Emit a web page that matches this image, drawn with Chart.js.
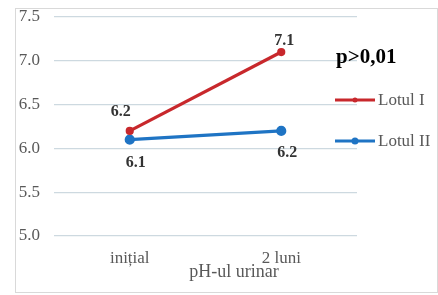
<!DOCTYPE html>
<html><head><meta charset="utf-8">
<script src="https://cdn.jsdelivr.net/npm/chart.js@4.4.1/dist/chart.umd.min.js"></script>
<style>
html,body{margin:0;padding:0;background:#fff;}
#wrap{position:relative;width:438px;height:295px;}
#frame{position:absolute;left:15px;top:8px;width:421px;height:283px;border:1px solid #d9d9d9;}
canvas{position:absolute;left:0;top:0;}
</style></head>
<body>
<div id="wrap"><div id="frame"></div><canvas id="c" width="438" height="295"></canvas></div>
<script>
const categories = ["inițial", "2 luni"];
const lotulI = [6.2, 7.1];
const lotulII = [6.1, 6.2];
const seriesNames = ["Lotul I", "Lotul II"];
const yTicks = [5.0, 5.5, 6.0, 6.5, 7.0, 7.5];
const axisTitle = "pH-ul urinar";
const pText = "p>0,01";

const RED = '#c8282c', BLUE = '#1f74c4';
const serif = '"Liberation Serif","DejaVu Serif",serif';

const labelOffsets = [[[-9,-19],[3,-11]], [[6,23],[6,22]]];

const extras = {
  id: 'extras',
  afterDatasetsDraw(chart) {
    const ctx = chart.ctx;
    ctx.save();
    ctx.font = 'bold 16px ' + serif;
    ctx.fillStyle = '#333';
    ctx.textAlign = 'center';
    ctx.textBaseline = 'middle';
    chart.data.datasets.forEach((ds, di) => {
      const meta = chart.getDatasetMeta(di);
      meta.data.forEach((pt, i) => {
        const o = labelOffsets[di][i];
        ctx.fillText(ds.data[i].toFixed(1), pt.x + o[0], pt.y + o[1]);
      });
    });
    ctx.font = 'bold 21px ' + serif;
    ctx.fillStyle = '#000';
    ctx.textAlign = 'left';
    ctx.textBaseline = 'alphabetic';
    ctx.fillText(pText, 336, 63);
    const ly = [100, 141];
    chart.data.datasets.forEach((ds, di) => {
      ctx.strokeStyle = ds.borderColor;
      ctx.lineWidth = 3;
      ctx.beginPath(); ctx.moveTo(335, ly[di]); ctx.lineTo(375, ly[di]); ctx.stroke();
      ctx.fillStyle = ds.borderColor;
      ctx.beginPath(); ctx.arc(355, ly[di], di === 0 ? 2.5 : 3.5, 0, Math.PI*2); ctx.fill();
      ctx.fillStyle = '#595959';
      ctx.font = '17px ' + serif;
      ctx.textBaseline = 'middle';
      ctx.fillText(ds.label, 378, ly[di] + 1);
    });
    ctx.font = '18px ' + serif;
    ctx.fillStyle = '#595959';
    ctx.textAlign = 'center';
    ctx.textBaseline = 'middle';
    ctx.fillText(axisTitle, 234, 272);
    ctx.restore();
  }
};

new Chart(document.getElementById('c'), {
  type: 'line',
  data: {
    labels: categories,
    datasets: [
      { label: seriesNames[0], data: lotulI, borderColor: RED, backgroundColor: RED, borderWidth: 3.2, pointRadius: 2.5, pointHoverRadius: 2.5, tension: 0 },
      { label: seriesNames[1], data: lotulII, borderColor: BLUE, backgroundColor: BLUE, borderWidth: 3.2, pointRadius: 3.5, pointHoverRadius: 3.5, tension: 0 }
    ]
  },
  options: {
    responsive: false,
    animation: false,
    events: [],
    layout: { padding: { left: 0, right: 81, top: 17, bottom: 0 } },
    plugins: { legend: { display: false }, tooltip: { enabled: false } },
    scales: {
      x: {
        offset: true,
        grid: { display: false, drawTicks: false },
        border: { display: false },
        ticks: { color: '#595959', font: { family: serif, size: 17 }, padding: 12, maxRotation: 0 },
        afterFit(s) { s.height = 59; }
      },
      y: {
        min: 5.0, max: 7.5,
        afterBuildTicks(s) { s.ticks = yTicks.map(v => ({ value: v })); },
        grid: { color: '#cdd9e0', lineWidth: 1.3, drawTicks: false },
        border: { display: false },
        ticks: { color: '#595959', font: { family: serif, size: 17 }, padding: 14, callback: v => Number(v).toFixed(1) },
        afterFit(s) { s.width = 54; s.paddingTop = 0; s.paddingBottom = 0; }
      }
    }
  },
  plugins: [extras]
});
</script>
</body></html>
